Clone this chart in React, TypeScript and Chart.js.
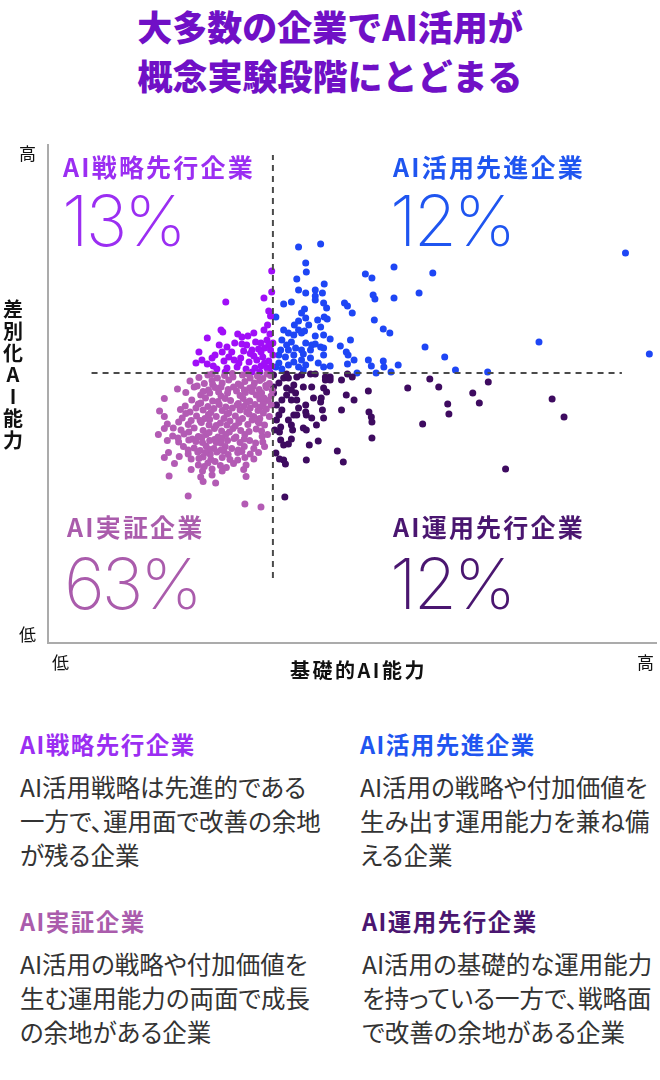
import { useEffect, useRef } from "react";
import { Chart, registerables } from "chart.js";

Chart.register(...registerables);

type Pt = [number, number];

// x: 基礎的AI能力スコア, y: 差別化AI能力スコア
const strategyLeaders: Pt[] = [
  [37.5, 74.4], [37.5, 70.2], [29.8, 68.2], [36.2, 69.0], [37.0, 66.4], [37.3, 65.4],
  [29.0, 62.6], [29.3, 62.2], [26.7, 61.0], [32.5, 61.2], [33.5, 61.4], [34.5, 62.0],
  [36.2, 62.6], [37.2, 61.8], [36.7, 60.6], [25.3, 58.2], [25.8, 56.6], [24.8, 56.0],
  [29.2, 58.2], [30.8, 58.2], [32.8, 58.4], [34.2, 58.6], [35.3, 58.8], [36.3, 59.0],
  [37.3, 58.6], [27.5, 57.0], [29.5, 56.4], [31.2, 56.6], [32.3, 57.0], [33.7, 56.2],
  [35.0, 56.6], [36.0, 57.2], [37.0, 56.4], [27.7, 55.4], [28.3, 54.8], [30.0, 55.0],
  [31.7, 55.2], [33.2, 54.8], [34.7, 55.0], [35.7, 55.4], [36.7, 55.0], [37.5, 55.4],
  [26.7, 55.8], [32.5, 59.8], [34.8, 60.2], [35.7, 60.0], [31.3, 60.0], [28.7, 59.6],
  [29.7, 54.2], [35.5, 54.2], [34.2, 54.2], [37.2, 54.2], [37.7, 57.6], [37.7, 60.0],
  [30.3, 57.2], [32.0, 56.0], [34.5, 57.4], [36.3, 56.0], [33.3, 59.6], [30.0, 59.2],
  [35.7, 58.2], [37.0, 59.6], [28.0, 57.6], [33.9, 57.9], [31.8, 61.8], [36.8, 63.6],
];

const utilizationLeaders: Pt[] = [
  [42.0, 79.2], [45.7, 79.8], [43.2, 76.0], [43.3, 74.2], [41.7, 72.8], [46.3, 71.8],
  [42.0, 70.6], [43.2, 70.0], [44.8, 70.6], [46.0, 70.0], [44.8, 69.4], [44.8, 68.6],
  [40.8, 68.2], [39.5, 67.8], [46.2, 68.0], [46.7, 67.0], [43.0, 66.8], [42.5, 66.0],
  [43.2, 65.0], [49.7, 68.0], [50.2, 67.4], [51.0, 66.0], [53.2, 73.8], [54.3, 73.0],
  [58.0, 75.2], [54.5, 69.6], [54.8, 68.8], [58.0, 69.0], [62.2, 70.0], [64.5, 74.0],
  [96.8, 78.0], [46.3, 65.2], [46.8, 64.8], [45.2, 64.6], [42.0, 64.4], [38.2, 65.2],
  [54.7, 64.6], [56.2, 62.8], [57.3, 62.0], [45.7, 63.2], [39.5, 62.6], [40.3, 62.0],
  [41.2, 61.6], [42.0, 62.6], [42.5, 62.0], [43.0, 62.4], [44.8, 61.4], [46.2, 61.6],
  [47.3, 60.8], [50.7, 60.6], [49.0, 59.4], [39.2, 60.6], [40.8, 60.2], [40.0, 59.6],
  [43.2, 60.0], [44.2, 59.6], [44.8, 59.8], [45.7, 59.2], [39.0, 58.6], [40.3, 58.6],
  [41.5, 59.0], [42.5, 58.6], [44.0, 58.6], [46.2, 59.0], [38.7, 57.6], [39.8, 57.2],
  [41.2, 57.6], [42.8, 57.8], [44.0, 57.0], [46.2, 57.6], [50.0, 58.2], [50.3, 57.6],
  [51.3, 56.6], [50.2, 55.8], [53.7, 56.6], [54.2, 55.4], [56.2, 56.4], [56.3, 55.2],
  [58.7, 55.6], [38.7, 56.0], [40.3, 55.6], [41.2, 56.2], [42.5, 56.6], [43.2, 55.6],
  [45.3, 56.0], [46.2, 55.2], [47.3, 55.4], [38.2, 55.2], [39.2, 54.8], [42.0, 55.2],
  [42.8, 54.6], [51.8, 54.0], [55.0, 54.0], [57.5, 54.2], [68.3, 54.6], [73.7, 54.2],
  [82.3, 60.2], [63.2, 59.2], [66.5, 57.2], [100.8, 57.8], [43.7, 63.6], [41.3, 63.6],
];

const pocCompanies: Pt[] = [
  [25.3, 53.1], [26.8, 53.6], [28.4, 53.0], [29.6, 53.5], [31.0, 53.2], [32.6, 53.6], [33.9, 53.0], [35.1, 53.4], [36.0, 52.9], [37.3, 53.5],
  [23.8, 52.4], [26.2, 51.9], [27.5, 52.5], [29.2, 52.0], [30.3, 52.6], [31.9, 51.8], [33.0, 52.3], [34.6, 52.0], [35.5, 52.5], [37.1, 51.9],
  [25.0, 51.4], [27.6, 51.7], [29.0, 51.2], [32.3, 51.5], [34.4, 51.3], [36.5, 51.5],
  [21.7, 50.8], [24.5, 51.2], [26.9, 50.6], [28.0, 51.1], [30.2, 50.7], [31.1, 51.2], [32.9, 50.6], [33.8, 51.0], [35.4, 50.7], [36.6, 51.1], [37.6, 50.5],
  [23.1, 50.1], [25.6, 49.6], [27.1, 50.0], [29.0, 49.4], [30.1, 50.0], [32.2, 49.5], [33.1, 50.1], [34.9, 49.6], [35.8, 50.0], [37.4, 49.4],
  [19.5, 48.9], [24.1, 48.6], [26.4, 49.0], [27.6, 48.4], [29.7, 48.9], [30.6, 48.5], [32.7, 48.9], [33.8, 48.4], [35.5, 48.8], [36.9, 48.5],
  [25.6, 48.0], [28.5, 48.3], [31.9, 47.9], [33.3, 48.1], [36.1, 47.9],
  [23.0, 47.4], [25.2, 47.8], [26.8, 47.3], [28.7, 47.7], [29.8, 47.2], [31.7, 47.6], [32.8, 47.3], [34.7, 47.7], [35.6, 47.2], [37.4, 47.6],
  [18.7, 46.4], [22.2, 46.7], [23.8, 46.2], [26.0, 46.6], [27.3, 46.1], [29.2, 46.5], [30.3, 46.0], [32.2, 46.6], [33.3, 46.2], [35.2, 46.5], [36.1, 46.0],
  [19.5, 45.3], [22.5, 45.0], [24.9, 45.4], [26.3, 44.9], [28.2, 45.3], [29.5, 44.9], [31.4, 45.4], [32.6, 44.9], [34.5, 45.3], [35.5, 44.9], [37.1, 45.3],
  [25.5, 44.5], [27.1, 44.7], [30.5, 44.4], [32.0, 44.6], [35.2, 44.3],
  [20.0, 43.8], [21.9, 44.2], [23.5, 43.7], [25.7, 44.1], [27.0, 43.6], [28.9, 44.0], [30.0, 43.6], [32.0, 44.1], [33.5, 43.7], [35.4, 44.0], [36.3, 43.6],
  [19.5, 42.9], [22.3, 42.6], [24.5, 43.0], [26.0, 42.5], [27.9, 42.9], [29.1, 42.4], [31.0, 42.9], [32.3, 42.5], [34.9, 42.8], [35.8, 42.4],
  [18.5, 41.7], [20.9, 41.4], [22.8, 41.8], [25.2, 41.3], [26.5, 41.7], [28.5, 41.2], [29.8, 41.7], [31.5, 41.2], [33.0, 41.7], [35.9, 41.3], [36.8, 41.7],
  [24.2, 40.8], [25.8, 41.1], [27.9, 40.7], [29.1, 41.0], [32.9, 40.8],
  [20.0, 40.5], [21.9, 40.2], [23.6, 40.6], [25.9, 40.1], [27.1, 40.5], [29.0, 40.0], [30.1, 40.5], [32.2, 40.1], [33.8, 40.5], [36.0, 40.2],
  [22.7, 39.3], [24.5, 39.0], [26.5, 39.4], [27.8, 38.9], [29.7, 39.3], [30.8, 38.9], [32.9, 39.3], [34.5, 38.9], [36.3, 39.3],
  [25.5, 38.5], [27.1, 38.7], [29.5, 38.4], [31.9, 38.6],
  [20.2, 38.1], [23.5, 37.8], [25.1, 38.2], [27.2, 37.7], [28.3, 38.2], [30.2, 37.7], [31.8, 38.1], [33.9, 37.8], [35.3, 38.1],
  [19.5, 37.1], [24.0, 36.8], [26.0, 37.2], [27.3, 36.7], [29.2, 37.1], [30.5, 36.7], [33.0, 37.1], [34.5, 36.8],
  [21.2, 35.9], [25.2, 35.6], [26.8, 36.0], [28.9, 35.5], [31.1, 35.9], [33.2, 35.6],
  [24.0, 34.7], [25.9, 34.4], [27.5, 34.8], [29.2, 34.4], [32.8, 34.7],
  [20.3, 33.4], [25.6, 33.2], [27.5, 33.6], [33.2, 33.3],
  [26.0, 32.3], [28.1, 32.0],
  [23.5, 29.4], [33.0, 27.8], [35.7, 27.2],
  [26.0, 50.3], [28.6, 50.2], [31.6, 50.4], [34.2, 50.3], [36.2, 49.0], [24.8, 47.0],
  [27.8, 46.9], [30.9, 47.0], [33.9, 47.0], [36.6, 46.8], [23.1, 45.9], [26.9, 45.7],
  [30.0, 45.8], [33.7, 45.8], [21.0, 43.0], [24.0, 44.5], [28.2, 43.5], [31.4, 43.4],
  [34.2, 44.6], [23.6, 42.2], [27.0, 42.1], [30.4, 42.2], [33.7, 42.3], [21.8, 41.0],
  [24.8, 40.3], [28.2, 40.1], [31.2, 40.9], [34.8, 40.0], [23.5, 38.6], [26.4, 38.1],
  [29.0, 38.6], [32.5, 38.3], [22.0, 37.3], [25.3, 36.9], [28.0, 36.3], [31.8, 36.6],
  [29.9, 35.1], [26.2, 35.3], [30.9, 53.9], [27.5, 53.8], [33.5, 53.8], [36.7, 53.8],
];

const operationLeaders: Pt[] = [
  [60.3, 51.0], [64.0, 52.8], [65.5, 51.2], [71.2, 50.0], [73.8, 52.2], [72.3, 48.0],
  [67.0, 47.8], [67.2, 45.8], [62.8, 43.8], [84.5, 48.8], [86.5, 45.2], [76.7, 34.8],
  [53.7, 50.4], [50.0, 49.6], [51.3, 48.6], [49.2, 46.6], [53.8, 46.2], [54.2, 45.2],
  [54.3, 44.2], [54.3, 41.0], [48.5, 38.4], [49.5, 36.2], [45.3, 40.4], [43.8, 39.6],
  [43.3, 36.6], [39.7, 29.2], [49.2, 52.6], [50.2, 53.8], [51.0, 53.2], [44.0, 53.8],
  [44.8, 53.8], [39.5, 36.6], [39.8, 35.8], [38.8, 36.8], [38.2, 38.0], [39.5, 39.6],
  [40.3, 39.8], [39.0, 40.6], [38.8, 42.2], [39.0, 43.2], [40.8, 40.8], [41.0, 42.6],
  [40.8, 43.6], [42.8, 43.0], [43.3, 42.6], [43.2, 46.2], [43.3, 45.6], [44.2, 45.0],
  [41.2, 45.6], [41.7, 45.6], [46.2, 45.0], [46.0, 46.6], [45.8, 49.0], [45.7, 48.2],
  [46.2, 51.0], [46.7, 50.2], [44.5, 49.0], [43.2, 47.6], [41.7, 48.6], [41.5, 50.0],
  [42.8, 51.2], [44.2, 51.2], [40.0, 51.0], [40.8, 50.6], [41.2, 51.6], [39.2, 48.6],
  [38.3, 47.6], [39.2, 46.6], [38.7, 45.6], [38.3, 44.6], [37.8, 50.0], [37.8, 51.2],
  [38.7, 52.0], [39.5, 53.0], [40.3, 53.0], [41.7, 53.2], [42.5, 53.6], [46.5, 53.2],
  [47.3, 53.2], [46.5, 52.6], [47.3, 52.6], [37.8, 53.6], [40.0, 53.8], [40.8, 48.6],
  [40.0, 49.6], [42.0, 47.0], [45.0, 43.6], [40.3, 44.6], [38.0, 42.6],
];

// 区分の境界
const xThreshold = 37.7;
const yThreshold = 54;
const xMax = 102;
const yMax = 99.6;

const jp = "'Noto Sans CJK JP', 'Noto Sans', sans-serif";
const numFont = "Inter, Lato, 'Noto Sans', sans-serif";

const C = {
  title: "#7010C6",
  strategy: "#9B2EF2",
  strategyDot: "#A00EF8",
  util: "#1F55F0",
  utilDot: "#1E46F5",
  poc: "#AA5CAC",
  pocDot: "#B35BB4",
  ops: "#4A1670",
  opsDot: "#3E0B60",
  body: "#333333",
};

function T(props: { x: number; y: number; size: number; color?: string; bold?: boolean; ls?: number; lh?: number; family?: string; weight?: number; children: any; style?: any }) {
  const { x, y, size, color = "#111", bold, ls = 0, lh, family = jp, weight, children, style } = props;
  return (
    <div
      style={{
        position: "absolute",
        left: x,
        top: y,
        fontSize: size,
        lineHeight: `${lh ?? size}px`,
        color,
        fontWeight: weight ?? (bold ? 700 : 400),
        letterSpacing: ls,
        fontFamily: family,
        whiteSpace: "pre",
        ...style,
      }}
    >
      {children}
    </div>
  );
}

const yTitle = ["差", "別", "化", "A", "I", "能", "力"];

const notes = [
  { x: 20, y: 733, color: C.strategy, head: "AI戦略先行企業", lines: ["AI活用戦略は先進的である", "一方で、運用面で改善の余地", "が残る企業"] },
  { x: 360, y: 733, color: C.util, head: "AI活用先進企業", lines: ["AI活用の戦略や付加価値を", "生み出す運用能力を兼ね備", "える企業"] },
  { x: 20, y: 910, color: C.poc, head: "AI実証企業", lines: ["AI活用の戦略や付加価値を", "生む運用能力の両面で成長", "の余地がある企業"] },
  { x: 362, y: 910, color: C.ops, head: "AI運用先行企業", lines: ["AI活用の基礎的な運用能力", "を持っている一方で、戦略面", "で改善の余地がある企業"] },
];

export default function App() {
  const ref = useRef<HTMLCanvasElement>(null);

  useEffect(() => {
    const toXY = (a: Pt[]) => a.map(([x, y]) => ({ x, y }));
    const dots = (data: Pt[], color: string, order: number) => ({
      data: toXY(data),
      backgroundColor: color,
      borderWidth: 0,
      pointRadius: 3.5,
      pointHoverRadius: 3.5,
      order,
    });
    const dashed = (data: { x: number; y: number }[]) => ({
      data,
      showLine: true,
      borderColor: "#4a4a4a",
      borderWidth: 2,
      borderDash: [6, 5],
      pointRadius: 0,
      order: 0,
    });

    const chart = new Chart(ref.current as HTMLCanvasElement, {
      type: "scatter",
      data: {
        datasets: [
          dashed([{ x: xThreshold, y: 13 }, { x: xThreshold, y: 97.6 }]),
          dashed([{ x: 7.3, y: yThreshold }, { x: 96.2, y: yThreshold }]),
          dots(pocCompanies, C.pocDot, 1),
          dots(operationLeaders, C.opsDot, 2),
          dots(strategyLeaders, C.strategyDot, 3),
          dots(utilizationLeaders, C.utilDot, 4),
        ] as any,
      },
      options: {
        responsive: false,
        animation: false,
        events: [],
        layout: { padding: { left: 48, top: 15, right: 0, bottom: 7 } },
        plugins: { legend: { display: false }, tooltip: { enabled: false } },
        scales: {
          x: {
            type: "linear",
            min: 0,
            max: xMax,
            grid: { display: false, drawTicks: false },
            ticks: { display: false },
            border: { display: true, color: "#ababab", width: 2 },
          },
          y: {
            type: "linear",
            min: 0,
            max: yMax,
            grid: { display: false, drawTicks: false },
            ticks: { display: false },
            border: { display: true, color: "#ababab", width: 2 },
          },
        },
      },
    });
    return () => chart.destroy();
  }, []);

  return (
    <div style={{ position: "absolute", left: 0, top: 0, width: 660, height: 1080, background: "#fff", overflow: "hidden" }}>
      <div
        style={{
          position: "absolute",
          left: 0,
          top: 1,
          width: 660,
          textAlign: "center",
          fontFamily: jp,
          fontWeight: 900,
          fontSize: 35,
          lineHeight: "49px",
          color: C.title,
        }}
      >
        大多数の企業でAI活用が
        <br />
        概念実験段階にとどまる
      </div>

      <canvas ref={ref} width={660} height={520} style={{ position: "absolute", left: 0, top: 130 }} />

      {/* quadrant labels */}
      <T x={63} y={154} size={25} bold ls={2.2} color={C.strategy}>AI戦略先行企業</T>
      <T x={62} y={186} size={70} family={numFont} weight={200} ls={-3} color={C.strategy}>13%</T>
      <T x={393} y={154} size={25} bold ls={2.2} color={C.util}>AI活用先進企業</T>
      <T x={390} y={186} size={70} family={numFont} weight={200} ls={-3} color={C.util}>12%</T>
      <T x={67} y={514} size={25} bold ls={2.2} color={C.poc}>AI実証企業</T>
      <T x={64} y={549} size={70} family={numFont} weight={200} ls={-3} color={C.poc}>63%</T>
      <T x={393} y={514} size={25} bold ls={2.2} color={C.ops}>AI運用先行企業</T>
      <T x={390} y={549} size={70} family={numFont} weight={200} ls={-3} color={C.ops}>12%</T>

      {/* axis labels */}
      <T x={19} y={144} size={17}>高</T>
      <T x={19} y={625} size={17}>低</T>
      <T x={52} y={653} size={17}>低</T>
      <T x={637} y={653} size={17}>高</T>
      <T x={290} y={660} size={20} bold ls={2.5}>基礎的AI能力</T>
      {yTitle.map((c, i) => (
        <div
          key={i}
          style={{
            position: "absolute",
            left: 3,
            top: 299 + i * 21.8,
            width: 20,
            textAlign: "center",
            fontFamily: jp,
            fontWeight: 700,
            fontSize: 20,
            lineHeight: "20px",
            color: "#111",
          }}
        >
          {c}
        </div>
      ))}

      {/* descriptions */}
      {notes.map((n, i) => (
        <div key={i}>
          <T x={n.x} y={n.y} size={23.5} bold ls={1.5} color={n.color}>{n.head}</T>
          <T
            x={n.x}
            y={n.y + 37}
            size={24.5}
            lh={34}
            color={C.body}
            style={{ fontFeatureSettings: "'palt'" }}
          >
            {n.lines.join("\n")}
          </T>
        </div>
      ))}
    </div>
  );
}
